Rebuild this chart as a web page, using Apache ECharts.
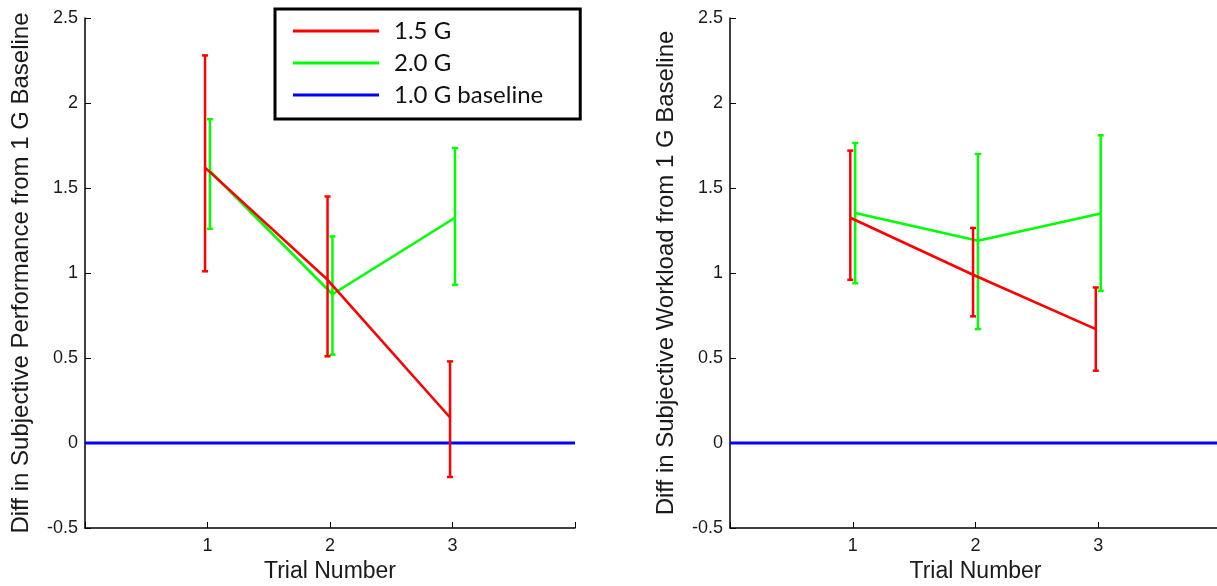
<!DOCTYPE html>
<html>
<head>
<meta charset="utf-8">
<script src="https://cdn.jsdelivr.net/npm/echarts@6/dist/echarts.min.js"></script>
<style>
html,body{margin:0;padding:0;background:#fff;}
#chart{width:1217px;height:586px;}
</style>
</head>
<body>
<div id="chart"></div>
<script>
// ---- data ----
const trials = [1, 2, 3];
const baselineX = [0, 4];
const baselineY = [0, 0];

const perf15Mean = [1.62, 0.96, 0.15];
const perf15Low  = [1.01, 0.51, -0.20];
const perf15High = [2.28, 1.45, 0.48];
const perf20Mean = [1.60, 0.875, 1.325];
const perf20Low  = [1.26, 0.52, 0.93];
const perf20High = [1.905, 1.215, 1.735];

const work15Mean = [1.325, 0.99, 0.67];
const work15Low  = [0.96, 0.745, 0.425];
const work15High = [1.72, 1.265, 0.915];
const work20Mean = [1.353, 1.19, 1.35];
const work20Low  = [0.94, 0.67, 0.895];
const work20High = [1.765, 1.70, 1.81];

const seriesNames = ['1.5 G', '2.0 G', '1.0 G baseline'];
const xTickLabels = ['1', '2', '3'];
const yTitles = ['Diff in Subjective Performance from 1 G Baseline', 'Diff in Subjective Workload from 1 G Baseline'];
const xTitle = 'Trial Number';

// ---- styling ----
const RED = '#ff0000', GREEN = '#00ff00', BLUE = '#0000ff';
const OFF15 = -0.02, OFF20 = 0.02;
const axisFont = 'Liberation Sans, Arial, sans-serif';

function pts(xs, ys, off) { return xs.map((x, i) => [x + off, ys[i]]); }
function bars(xs, lo, hi, off) { return xs.map((x, i) => [x + off, lo[i], hi[i]]); }

function errRender(color) {
  return function (params, api) {
    const x = api.value(0);
    const p1 = api.coord([x, api.value(1)]);
    const p2 = api.coord([x, api.value(2)]);
    const c = 3;
    const st = { stroke: color, lineWidth: 2.5 };
    return {
      type: 'group',
      children: [
        { type: 'line', shape: { x1: p1[0], y1: p1[1], x2: p2[0], y2: p2[1] }, style: st },
        { type: 'line', shape: { x1: p1[0] - c, y1: p1[1], x2: p1[0] + c, y2: p1[1] }, style: st },
        { type: 'line', shape: { x1: p2[0] - c, y1: p2[1], x2: p2[0] + c, y2: p2[1] }, style: st }
      ]
    };
  };
}

function xAxis(idx) {
  return {
    type: 'value', gridIndex: idx, min: 0, max: 4, interval: 1,
    name: xTitle, nameLocation: 'middle', nameGap: 23,
    nameTextStyle: { fontFamily: axisFont, fontSize: 23, color: '#1a1a1a' },
    axisLine: { show: true, onZero: false, lineStyle: { color: '#000', width: 1.5 } },
    axisTick: { show: true, inside: true, length: 6, lineStyle: { color: '#000', width: 1 } },
    axisLabel: {
      fontFamily: axisFont, fontSize: 18, color: '#1a1a1a', margin: 9,
      formatter: v => { const i = trials.indexOf(v); return i >= 0 ? xTickLabels[i] : ''; }
    },
    splitLine: { show: false }
  };
}
function yAxis(idx) {
  return {
    type: 'value', gridIndex: idx, min: -0.5, max: 2.5, interval: 0.5,
    name: yTitles[idx], nameLocation: 'middle', nameGap: 52,
    nameTextStyle: { fontFamily: axisFont, fontSize: 24, color: '#1a1a1a' },
    axisLine: { show: true, onZero: false, lineStyle: { color: '#000', width: 1.5 } },
    axisTick: { show: true, inside: true, length: 6, lineStyle: { color: '#000', width: 1 } },
    axisLabel: { fontFamily: axisFont, fontSize: 18, color: '#1a1a1a', margin: 7 },
    splitLine: { show: false }
  };
}

function panel(idx, m15, lo15, hi15, m20, lo20, hi20) {
  return [
    { name: seriesNames[2], type: 'line', xAxisIndex: idx, yAxisIndex: idx, z: 1,
      data: baselineX.map((x, i) => [x, baselineY[i]]), symbol: 'none',
      lineStyle: { color: BLUE, width: 3 }, itemStyle: { color: BLUE }, silent: true },
    { name: seriesNames[1], type: 'line', xAxisIndex: idx, yAxisIndex: idx, z: 3,
      data: pts(trials, m20, OFF20), symbol: 'none',
      lineStyle: { color: GREEN, width: 2.6 }, itemStyle: { color: GREEN } },
    { type: 'custom', xAxisIndex: idx, yAxisIndex: idx, z: 3,
      data: bars(trials, lo20, hi20, OFF20), renderItem: errRender(GREEN),
      encode: { x: 0, y: [1, 2] } },
    { name: seriesNames[0], type: 'line', xAxisIndex: idx, yAxisIndex: idx, z: 4,
      data: pts(trials, m15, OFF15), symbol: 'none',
      lineStyle: { color: RED, width: 2.6 }, itemStyle: { color: RED } },
    { type: 'custom', xAxisIndex: idx, yAxisIndex: idx, z: 4,
      data: bars(trials, lo15, hi15, OFF15), renderItem: errRender(RED),
      encode: { x: 0, y: [1, 2] } }
  ];
}

const chart = echarts.init(document.getElementById('chart'), null, { renderer: 'canvas' });
chart.setOption({
  animation: false,
  backgroundColor: '#fff',
  grid: [
    { left: 85, top: 18, width: 490, height: 510, outerBoundsMode: 'none', containLabel: false },
    { left: 730, top: 18, width: 491, height: 510, outerBoundsMode: 'none', containLabel: false }
  ],
  xAxis: [xAxis(0), xAxis(1)],
  yAxis: [yAxis(0), yAxis(1)],
  legend: {
    data: seriesNames, orient: 'vertical', left: 275, top: 9,
    icon: 'rect', itemWidth: 86, itemHeight: 3, itemGap: 8,
    borderColor: '#000', borderWidth: 3, backgroundColor: '#fff',
    padding: [10, 37, 12, 18],
    textStyle: { fontFamily: 'Lato, Open Sans, sans-serif', fontSize: 24, color: '#111', padding: [0, 0, 0, 10] }
  },
  series: [].concat(
    panel(0, perf15Mean, perf15Low, perf15High, perf20Mean, perf20Low, perf20High),
    panel(1, work15Mean, work15Low, work15High, work20Mean, work20Low, work20High)
  )
});
</script>
</body>
</html>
